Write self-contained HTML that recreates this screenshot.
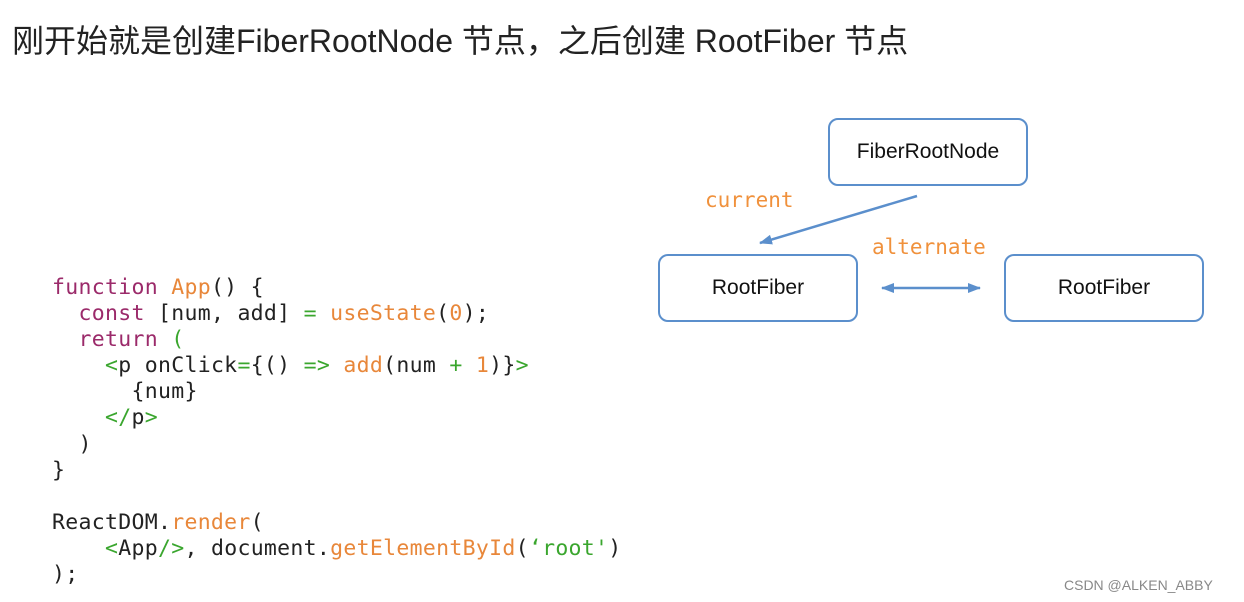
<!DOCTYPE html>
<html><head><meta charset="utf-8"><style>
body{margin:0;width:1244px;height:602px;background:#fff;position:relative;overflow:hidden}
.t{position:absolute;left:12px;top:16px;font:32px "Liberation Sans","Noto Sans CJK SC",sans-serif;color:#222;white-space:nowrap}
.code{position:absolute;left:52px;top:275px;font:21.5px/26.1px "DejaVu Sans Mono","Liberation Mono",monospace;color:#222;white-space:pre;margin:0;letter-spacing:0.3px}
.k{color:#9b2a6a}.o{color:#e8873a}.g{color:#3aa62e}
.box{position:absolute;width:196px;height:64px;border:2.5px solid #5b8fcc;border-radius:10px;display:flex;align-items:center;justify-content:center;font:21px "Liberation Sans",sans-serif;color:#111}
.lab{position:absolute;font:21px "DejaVu Sans Mono",monospace;color:#f0913c}
.wm{position:absolute;left:1064px;top:577px;font:14px "Liberation Sans",sans-serif;color:#888}
</style></head><body>
<div class="t">刚开始就是创建FiberRootNode 节点，之后创建 RootFiber 节点</div>
<pre class="code"><span class="k">function</span> <span class="o">App</span>() {
  <span class="k">const</span> [num, add] <span class="g">=</span> <span class="o">useState</span>(<span class="o">0</span>);
  <span class="k">return</span> <span class="g">(</span>
    <span class="g">&lt;</span>p onClick<span class="g">=</span>{() <span class="g">=&gt;</span> <span class="o">add</span>(num <span class="g">+</span> <span class="o">1</span>)}<span class="g">&gt;</span>
      {num}
    <span class="g">&lt;/</span>p<span class="g">&gt;</span>
  )
}

ReactDOM.<span class="o">render</span>(
    <span class="g">&lt;</span>App<span class="g">/&gt;</span>, document.<span class="o">getElementById</span>(<span class="g">‘root'</span>)
);</pre>
<div class="box" style="left:828px;top:118px">FiberRootNode</div>
<div class="box" style="left:658px;top:254px">RootFiber</div>
<div class="box" style="left:1004px;top:254px">RootFiber</div>
<div class="lab" style="left:705px;top:188px">current</div>
<div class="lab" style="left:872px;top:235px">alternate</div>
<svg width="1244" height="602" style="position:absolute;left:0;top:0">
<defs><marker id="a" markerWidth="13" markerHeight="10" refX="12" refY="5" orient="auto" markerUnits="userSpaceOnUse"><path d="M0,0L13,5L0,10z" fill="#5b8fcc"/></marker>
<marker id="b" markerWidth="13" markerHeight="10" refX="1" refY="5" orient="auto" markerUnits="userSpaceOnUse"><path d="M13,0L0,5L13,10z" fill="#5b8fcc"/></marker></defs>
<line x1="917" y1="196" x2="760" y2="243" stroke="#5b8fcc" stroke-width="2.5" marker-end="url(#a)"/>
<line x1="882" y1="288" x2="980" y2="288" stroke="#5b8fcc" stroke-width="2.5" marker-start="url(#b)" marker-end="url(#a)"/>
</svg>
<div class="wm">CSDN @ALKEN_ABBY</div>
</body></html>
